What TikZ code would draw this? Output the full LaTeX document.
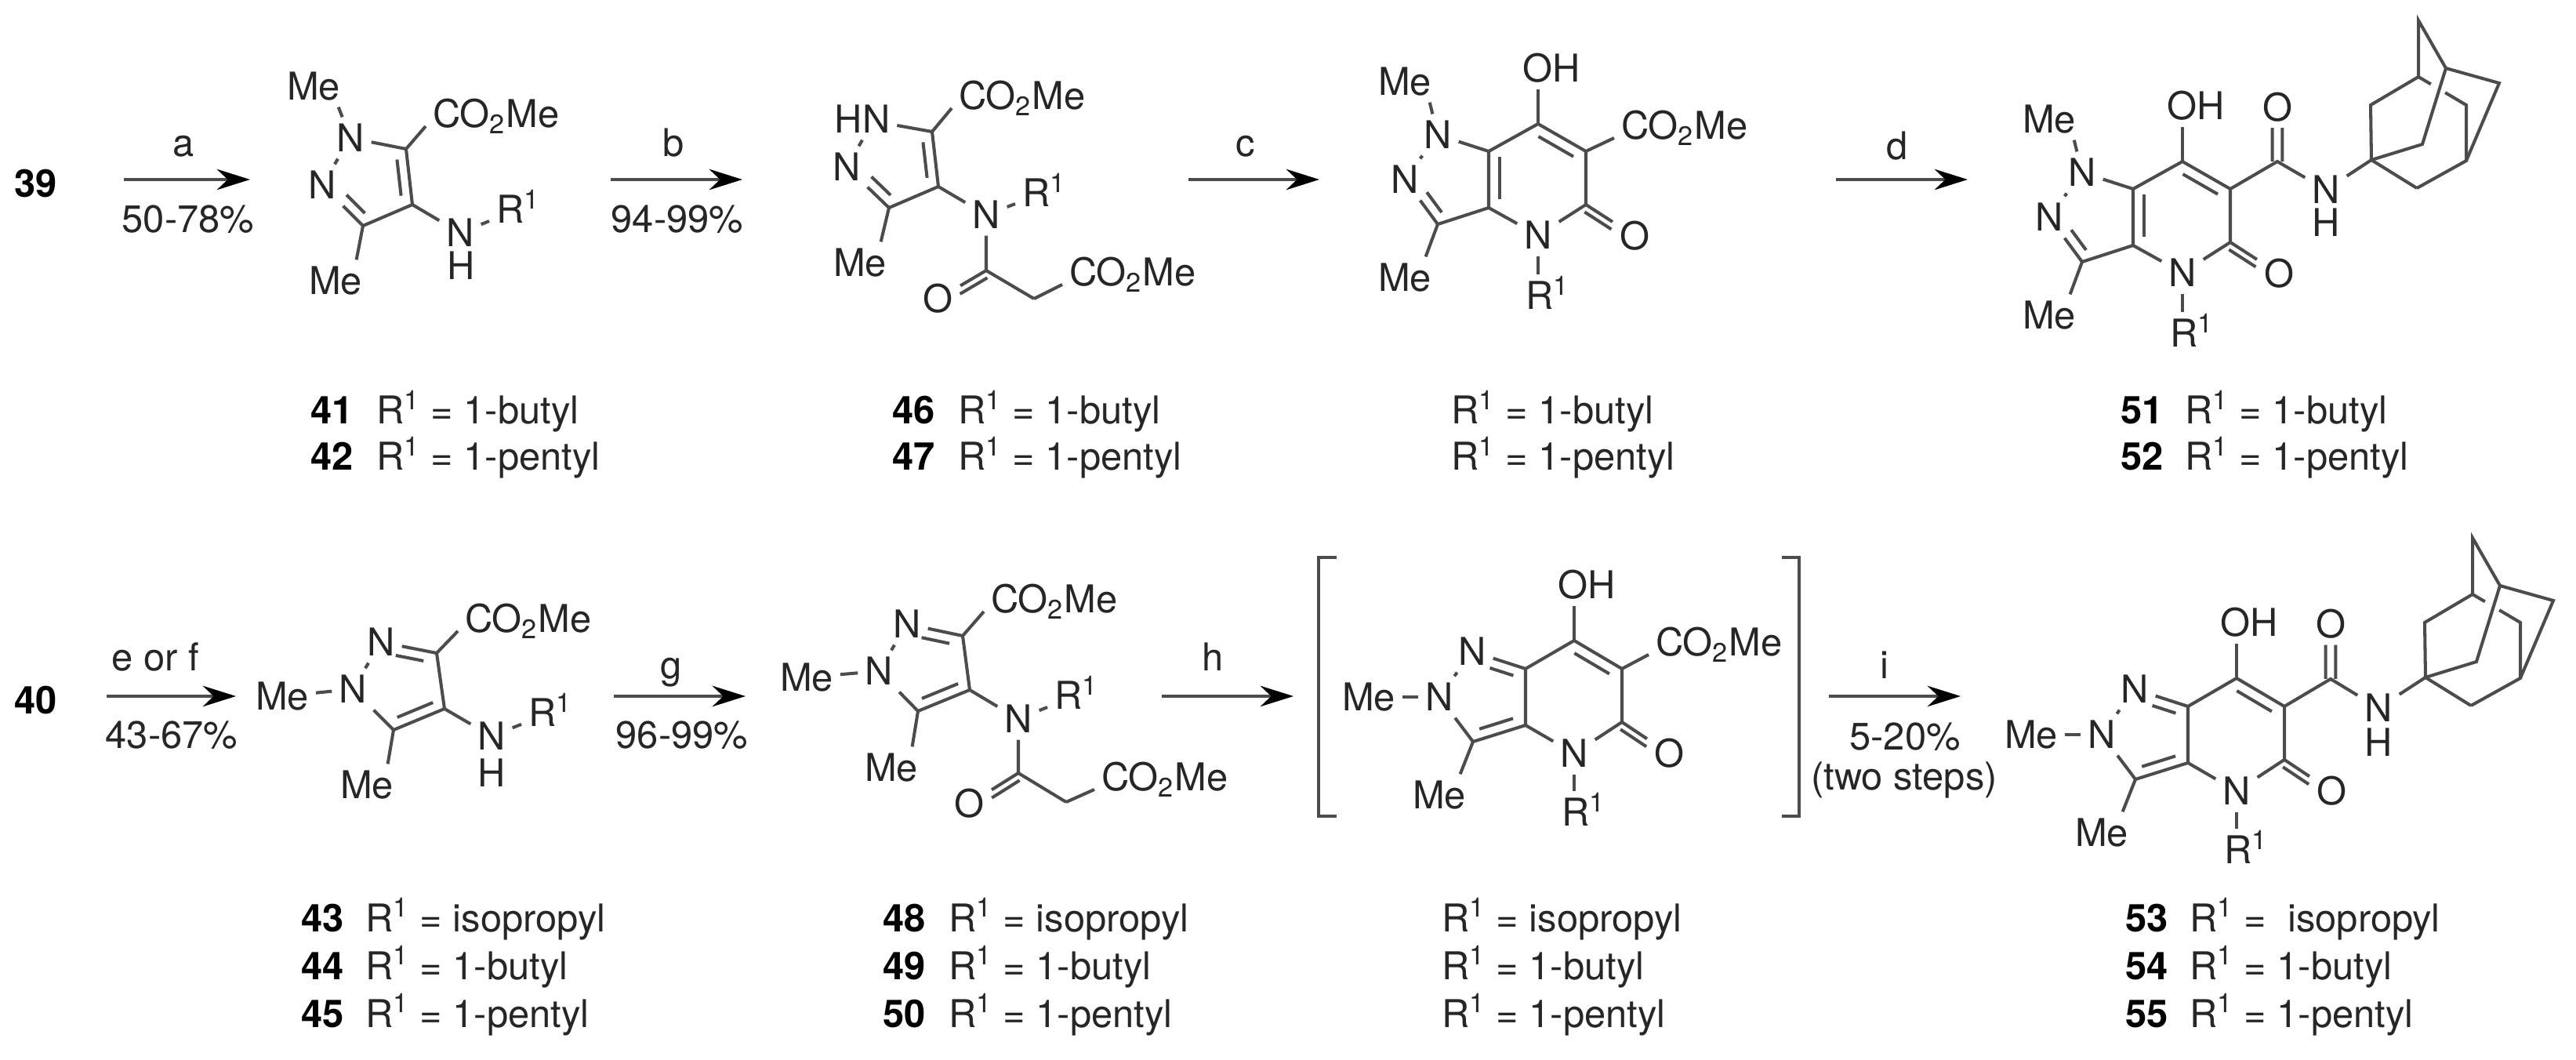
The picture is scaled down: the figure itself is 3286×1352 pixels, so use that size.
\documentclass[tikz,border=0pt]{standalone}
\usepackage{fontspec}
\setmainfont{TeX Gyre Heros}
\usetikzlibrary{arrows.meta,calc}

\tikzset{
  atom/.style={font=\fontsize{13.9}{16}\selectfont,text=black!85,inner sep=2pt,text height=10pt,text depth=0pt},
  hatom/.style={atom,inner sep=0pt,text height=6pt,anchor=base},
  lab/.style={font=\fontsize{13.9}{16}\selectfont,text=black!85,inner sep=0pt,anchor=base west},
  num/.style={lab,text=black,font=\fontsize{13.9}{16}\selectfont\bfseries},
  cond/.style={font=\fontsize{13.9}{16}\selectfont,text=black!85,inner sep=0pt,anchor=base},
  rxn/.style={line width=1.3pt,-{Stealth[length=12pt,width=7.5pt,color=black]}}
}

\newcommand{\inbond}[5]{\draw ($(#1)!#4!(#2)!#3!90:(#2)$) -- ($(#1)!#5!(#2)!#3!90:(#2)$);}
\newcommand{\estbond}[2]{\draw (#1) -- ($(#2.south west)!.4!(#2.west)$);}

\newcommand{\pyridoA}[2]{
\begin{scope}[shift={(#2)},name prefix=#1-]
\node[atom] (Mt) at (1792,104) {Me};
\node[atom] (N1) at (1834,172) {N};
\node[atom] (N2) at (1792,229) {N};
\coordinate (C3) at (1834,286);
\node[atom] (Mb) at (1792,354) {Me};
\coordinate (C3a) at (1899,265);
\coordinate (C7a) at (1899,193);
\coordinate (C7) at (1962,158);
\node[atom] (OH) at (1979,87) {OH};
\coordinate (C6) at (2023,193);
\coordinate (C5) at (2023,261);
\node[atom] (N4) at (1962,300) {N};
\node[atom] (O) at (2085,301) {O};
\node[atom,anchor=west] (R) at (1937,377) {R\textsuperscript{1}};
\draw (Mt.-40) -- (N1);
\draw (N1) -- (N2);
\draw (N1) -- (C7a);
\draw (N2) -- (C3);
\inbond{N2}{C3}{3.7pt}{.42}{.87}
\draw (Mb.45) -- (C3) -- (C3a) -- (C7a) -- (C7) -- (C6) -- (C5) -- (N4);
\draw (N4) -- (C3a);
\inbond{C7a}{C3a}{3.9pt}{.1}{.85}
\inbond{C7}{C6}{-3.9pt}{.12}{.85}
\draw (C7) -- (C7 |- OH.south);
\draw (C5) -- (O);
\inbond{C5}{O}{-2.5pt}{.05}{.6}
\draw (N4) -- (N4 |- R.north);
\end{scope}
}

\newcommand{\pyridoB}[2]{
\begin{scope}[shift={(#2)},name prefix=#1-]
\node[atom] (Me) at (1746,889) {Me};
\node[atom] (N1) at (1836,889) {N};
\node[atom] (N2) at (1878,831) {N};
\coordinate (C3) at (1879,946);
\node[atom] (Mb) at (1836,1014) {Me};
\coordinate (C3a) at (1946,925);
\coordinate (C7a) at (1946,853);
\coordinate (C7) at (2008,817);
\node[atom] (OH) at (2024,746) {OH};
\coordinate (C6) at (2069,853);
\coordinate (C5) at (2069,921);
\node[atom] (N4) at (2008,961) {N};
\node[atom] (O) at (2129,961) {O};
\node[atom,anchor=west] (R) at (1983,1036) {R\textsuperscript{1}};
\draw (Me) -- (N1);
\draw (N1) -- (N2);
\draw (N2) -- (C7a);
\inbond{N2}{C7a}{-3.7pt}{.39}{.83}
\draw (N1) -- (C3);
\inbond{C3}{C3a}{3.7pt}{.18}{.82}
\draw (Mb.45) -- (C3) -- (C3a) -- (C7a) -- (C7) -- (C6) -- (C5) -- (N4);
\draw (N4) -- (C3a);
\inbond{C7}{C6}{-3.9pt}{.12}{.85}
\draw (C7) -- (C7 |- OH.south);
\draw (C5) -- (O);
\inbond{C5}{O}{-2.5pt}{.05}{.6}
\draw (N4) -- (N4 |- R.north);
\end{scope}
}

\newcommand{\adaman}[2]{
\begin{scope}[shift={(#2)},name prefix=#1-]
\coordinate (a1) at (0,0);
\coordinate (a2) at (-1,-70);
\coordinate (a3) at (60,-106);
\coordinate (a4) at (121,-70);
\coordinate (a5) at (121,1);
\coordinate (a6) at (58,36);
\coordinate (a7) at (65,-20);
\coordinate (a8) at (95,-117);
\coordinate (a9) at (60,-178);
\coordinate (a10) at (163,-98);
\draw (a6) -- (a1) -- (a2) -- (a3) -- ($(a3)!.26!(a4)$);
\draw ($(a3)!.56!(a4)$) -- (a4) -- (a5) -- (a6);
\draw (a1) -- (a7) -- (a8) -- (a9) -- (a3);
\draw (a8) -- (a10) -- (a5);
\end{scope}
}

\begin{document}
\begin{tikzpicture}[x=0.01cm,y=-0.01cm,line width=1.15pt,color=black!70]
\path[fill=white,use as bounding box] (0,0) rectangle (3286,1352);

\node[num] (s39) at (16,252) {39};
\coordinate (a0) at (158,229);
\coordinate (a1) at (319,229);
\draw[rxn] (a0) -- (a1);
\node[cond] (ca) at (234,200) {a};
\node[cond] (ya) at (240,297) {50-78\%};

\node[atom] (MtA) at (400,110) {Me};
\node[atom] (N1A) at (447,176) {N};
\node[atom] (N2A) at (411,236) {N};
\coordinate (C5A) at (518,190);
\coordinate (C4A) at (526,261);
\coordinate (C3A) at (463,288);
\node[atom] (MbA) at (428,358) {Me};
\node[atom,anchor=west] (EA) at (543,145) {CO\textsubscript{2}Me};
\node[atom] (NA) at (587,297) {N};
\node[hatom] (HA) at (588,357) {H};
\node[atom,anchor=west] (RA) at (624,267) {R\textsuperscript{1}};
\draw (MtA.-40) -- (N1A);
\draw (N1A) -- (N2A);
\draw (N1A) -- (C5A) -- (C4A) -- (C3A) -- (N2A);
\draw (C3A) -- (MbA.45);
\inbond{C4A}{C5A}{3.7pt}{.18}{.83}
\inbond{N2A}{C3A}{3.7pt}{.42}{.87}
\estbond{C5A}{EA}
\draw (C4A) -- (NA);
\draw (NA) -- (RA);

\coordinate (b0) at (779,229);
\coordinate (b1) at (947,229);
\draw[rxn] (b0) -- (b1);
\node[cond] (cb) at (859,200) {b};
\node[cond] (yb) at (864,297) {94-99\%};

\node[atom] (HNB) at (1100,152) {HN};
\node[atom] (N2B) at (1080,213) {N};
\coordinate (C5B) at (1189,168);
\coordinate (C4B) at (1197,238);
\coordinate (C3B) at (1134,265);
\node[atom] (MbB) at (1097,335) {Me};
\node[atom,anchor=west] (EB) at (1214,122) {CO\textsubscript{2}Me};
\node[atom] (NB) at (1258,274) {N};
\node[atom,anchor=west] (RB) at (1295,246) {R\textsuperscript{1}};
\coordinate (CB) at (1258,345);
\node[atom] (OB) at (1197,381) {O};
\coordinate (CHB) at (1319,381);
\node[atom,anchor=west] (FB) at (1355,347) {CO\textsubscript{2}Me};
\draw (HNB.south) -- (N2B);
\draw (HNB) -- (C5B) -- (C4B) -- (C3B) -- (N2B);
\draw (C3B) -- (MbB.45);
\inbond{C4B}{C5B}{3.7pt}{.18}{.83}
\inbond{N2B}{C3B}{3.7pt}{.42}{.87}
\estbond{C5B}{EB}
\draw (C4B) -- (NB);
\draw (NB) -- (RB);
\draw (NB) -- (CB) -- (CHB);
\estbond{CHB}{FB}
\draw (CB) -- (OB);
\inbond{CB}{OB}{2.5pt}{.05}{.62}

\coordinate (c0) at (1516,229);
\coordinate (c1) at (1683,229);
\draw[rxn] (c0) -- (c1);
\node[cond] (cc) at (1589,200) {c};

\pyridoA{k}{0,0}
\node[atom,anchor=west] (EC) at (2059,160) {CO\textsubscript{2}Me};
\estbond{k-C6}{EC}

\coordinate (d0) at (2342,229);
\coordinate (d1) at (2510,229);
\draw[rxn] (d0) -- (d1);
\node[cond] (cd) at (2420,204) {d};

\pyridoA{m}{822,48}
\coordinate (CD) at (2905,206);
\node[atom] (OD) at (2905,137) {O};
\node[atom] (ND) at (2967,242) {N};
\node[hatom] (HD) at (2967,302) {H};
\adaman{ad}{3025,204}
\draw (m-C6) -- (CD) -- (ND);
\draw (ND) -- (ad-a1);
\inbond{CD}{OD}{1.8pt}{0}{.62}
\inbond{CD}{OD}{-1.8pt}{0}{.62}

\node[num] (n41) at (394,541) {41};
\node[lab] (t41) at (478,541) {R\textsuperscript{1} = 1-butyl};
\node[num] (n42) at (394,600) {42};
\node[lab] (t42) at (478,600) {R\textsuperscript{1} = 1-pentyl};
\node[num] (n46) at (1136,541) {46};
\node[lab] (t46) at (1220,541) {R\textsuperscript{1} = 1-butyl};
\node[num] (n47) at (1136,600) {47};
\node[lab] (t47) at (1220,600) {R\textsuperscript{1} = 1-pentyl};
\node[lab] (tc1) at (1849,541) {R\textsuperscript{1} = 1-butyl};
\node[lab] (tc2) at (1849,600) {R\textsuperscript{1} = 1-pentyl};
\node[num] (n51) at (2703,541) {51};
\node[lab] (t51) at (2785,541) {R\textsuperscript{1} = 1-butyl};
\node[num] (n52) at (2703,600) {52};
\node[lab] (t52) at (2785,600) {R\textsuperscript{1} = 1-pentyl};

\node[num] (s40) at (16,911) {40};
\coordinate (e0) at (136,888);
\coordinate (e1) at (301,888);
\draw[rxn] (e0) -- (e1);
\node[cond] (ce) at (198,856) {e or f};
\node[cond] (ye) at (219,954) {43-67\%};

\node[atom] (MeE) at (360,888) {Me};
\node[atom] (N1E) at (450,879) {N};
\node[atom] (N2E) at (486,819) {N};
\coordinate (C3E) at (557,833);
\coordinate (C4E) at (567,904);
\coordinate (C5E) at (502,931);
\node[atom] (MbE) at (468,1001) {Me};
\node[atom,anchor=west] (EE) at (584,789) {CO\textsubscript{2}Me};
\node[atom] (NE) at (627,939) {N};
\node[hatom] (HE) at (627,1003) {H};
\node[atom,anchor=west] (RE) at (665,909) {R\textsuperscript{1}};
\draw (MeE) -- (N1E);
\draw (N1E) -- (N2E);
\draw (N2E) -- (C3E) -- (C4E) -- (C5E) -- (N1E);
\draw (C5E) -- (MbE.45);
\inbond{N2E}{C3E}{-3.7pt}{.3}{.8}
\inbond{C5E}{C4E}{3.7pt}{.15}{.85}
\estbond{C3E}{EE}
\draw (C4E) -- (NE);
\draw (NE) -- (RE);

\coordinate (g0) at (783,888);
\coordinate (g1) at (951,888);
\draw[rxn] (g0) -- (g1);
\node[cond] (cg) at (856,866) {g};
\node[cond] (yg) at (870,954) {96-99\%};

\node[atom] (MeF) at (1029,864) {Me};
\node[atom] (N1F) at (1121,856) {N};
\node[atom] (N2F) at (1157,796) {N};
\coordinate (C3F) at (1228,811);
\coordinate (C4F) at (1237,880);
\coordinate (C5F) at (1171,907);
\node[atom] (MbF) at (1137,979) {Me};
\node[atom,anchor=west] (EF) at (1255,764) {CO\textsubscript{2}Me};
\node[atom] (NF) at (1299,917) {N};
\node[atom,anchor=west] (RF) at (1336,887) {R\textsuperscript{1}};
\coordinate (CF) at (1299,986);
\node[atom] (OF) at (1237,1025) {O};
\coordinate (CHF) at (1360,1023);
\node[atom,anchor=west] (FF) at (1396,991) {CO\textsubscript{2}Me};
\draw (MeF) -- (N1F);
\draw (N1F) -- (N2F);
\draw (N2F) -- (C3F) -- (C4F) -- (C5F) -- (N1F);
\draw (C5F) -- (MbF.45);
\inbond{N2F}{C3F}{-3.7pt}{.3}{.8}
\inbond{C5F}{C4F}{3.7pt}{.15}{.85}
\estbond{C3F}{EF}
\draw (C4F) -- (NF);
\draw (NF) -- (RF);
\draw (NF) -- (CF) -- (CHF);
\estbond{CHF}{FF}
\draw (CF) -- (OF);
\inbond{CF}{OF}{2.5pt}{.05}{.62}

\coordinate (h0) at (1482,888);
\coordinate (h1) at (1650,888);
\draw[rxn] (h0) -- (h1);
\node[cond] (ch) at (1547,856) {h};

\draw[line width=1.3pt] (1705,711) -- (1682,711) -- (1682,1041) -- (1705,1041);
\pyridoB{p}{0,0}
\node[atom,anchor=west] (EG) at (2103,819) {CO\textsubscript{2}Me};
\estbond{p-C6}{EG}
\draw[line width=1.3pt] (2273,711) -- (2295,711) -- (2295,1041) -- (2273,1041);

\coordinate (i0) at (2333,888);
\coordinate (i1) at (2501,888);
\draw[rxn] (i0) -- (i1);
\node[cond] (ci) at (2404,866) {i};
\node[cond] (yi) at (2430,956) {5-20\%};
\node[cond] (ti) at (2429,1008) {(two steps)};

\pyridoB{q}{845,48}
\coordinate (CH) at (2973,866);
\node[atom] (OH2) at (2973,796) {O};
\node[atom] (NH2) at (3034,903) {N};
\node[hatom] (HH2) at (3034,965) {H};
\adaman{ae}{3094,864}
\draw (q-C6) -- (CH) -- (NH2);
\draw (NH2) -- (ae-a1);
\inbond{CH}{OH2}{1.8pt}{0}{.62}
\inbond{CH}{OH2}{-1.8pt}{0}{.62}

\node[num] (n43) at (382,1188) {43};
\node[lab] (t43) at (464,1188) {R\textsuperscript{1} = isopropyl};
\node[num] (n44) at (382,1249) {44};
\node[lab] (t44) at (464,1249) {R\textsuperscript{1} = 1-butyl};
\node[num] (n45) at (382,1310) {45};
\node[lab] (t45) at (464,1310) {R\textsuperscript{1} = 1-pentyl};
\node[num] (n48) at (1124,1188) {48};
\node[lab] (t48) at (1208,1188) {R\textsuperscript{1} = isopropyl};
\node[num] (n49) at (1124,1249) {49};
\node[lab] (t49) at (1208,1249) {R\textsuperscript{1} = 1-butyl};
\node[num] (n50) at (1124,1310) {50};
\node[lab] (t50) at (1208,1310) {R\textsuperscript{1} = 1-pentyl};
\node[lab] (tg1) at (1837,1188) {R\textsuperscript{1} = isopropyl};
\node[lab] (tg2) at (1837,1249) {R\textsuperscript{1} = 1-butyl};
\node[lab] (tg3) at (1837,1310) {R\textsuperscript{1} = 1-pentyl};
\node[num] (n53) at (2709,1188) {53};
\node[lab] (t53) at (2791,1188) {R\textsuperscript{1} = \ isopropyl};
\node[num] (n54) at (2709,1249) {54};
\node[lab] (t54) at (2791,1249) {R\textsuperscript{1} = 1-butyl};
\node[num] (n55) at (2709,1310) {55};
\node[lab] (t55) at (2791,1310) {R\textsuperscript{1} = 1-pentyl};
\end{tikzpicture}
\end{document}
